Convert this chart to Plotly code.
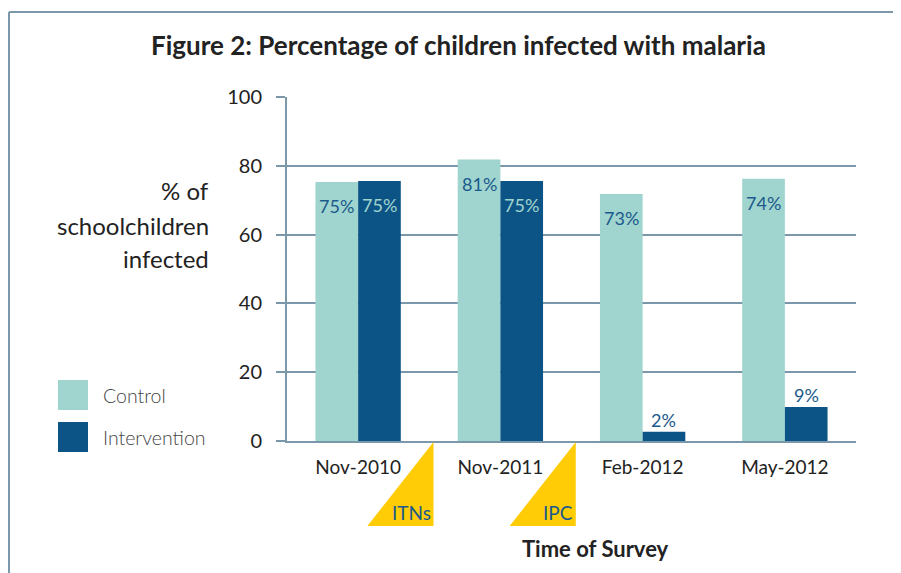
import plotly.graph_objects as go

categories = ["Nov-2010", "Nov-2011", "Feb-2012", "May-2012"]
control = [75.3, 81.8, 71.8, 76.2]
intervention = [75.6, 75.6, 2.7, 9.9]
control_labels = ["75%", "81%", "73%", "74%"]
intervention_labels = ["75%", "75%", "2%", "9%"]
y_ticks = [0, 20, 40, 60, 80, 100]
markers = [("ITNs", 0.5), ("IPC", 1.5)]

C_CTRL = "#a0d4ce"
C_INT = "#0d5486"
C_TXT = "#1b5a8c"
C_GRID = "#7b98ab"
C_YEL = "#ffcc05"
FONT = "Lato"

# page body margin of the browser (8px) is compensated
OFF = 8
W, H = 901 - OFF, 573 - OFF
# plot area in page pixels
L, R, T, B = 287, 856, 97, 441


def px(x):
    return (x - L) / (R - L)


def py(y):
    return (B - y) / (B - T)


fig = go.Figure()
fig.add_trace(go.Bar(x=categories, y=control, name="Control", marker_color=C_CTRL,
                     marker_line_width=0, hoverinfo="skip"))
fig.add_trace(go.Bar(x=categories, y=intervention, name="Intervention", marker_color=C_INT,
                     marker_line_width=0, hoverinfo="skip"))

ann = []
shapes = []
# bar labels
for cat, v, lab in zip(categories, control, control_labels):
    ann.append(dict(x=cat, y=v, xref="x", yref="y", text=lab, showarrow=False,
                    xanchor="center", yanchor="middle",
                    xshift=-21.3, yshift=-24, font=dict(family=FONT, size=18, color=C_TXT)))
for cat, v, lab in zip(categories, intervention, intervention_labels):
    inside = v > 20
    ann.append(dict(x=cat, y=v, xref="x", yref="y", text=lab, showarrow=False,
                    xanchor="center", yanchor="middle",
                    xshift=21.3, yshift=-24 if inside else 12,
                    font=dict(family=FONT, size=18, color=C_CTRL if inside else C_TXT)))

# title
ann.append(dict(x=px(458), y=py(45), xref="paper", yref="paper", showarrow=False,
                xanchor="center", yanchor="middle",
                text="<b>Figure 2: Percentage of children infected with malaria</b>",
                font=dict(family=FONT, size=26, color="#222")))
# y title
for txt, yy in [("% of", 190), ("schoolchildren", 225), ("infected", 258)]:
    ann.append(dict(x=px(211), y=py(yy), xref="paper", yref="paper", showarrow=False,
                    xanchor="right", yanchor="middle", text=txt,
                    font=dict(family=FONT, size=24, color="#222")))
# x title
ann.append(dict(x=px(595), y=py(548), xref="paper", yref="paper", showarrow=False,
                xanchor="center", yanchor="middle",
                text="<b>Time of Survey</b>", font=dict(family=FONT, size=22, color="#222")))
# legend
for name, col, yy in [("Control", C_CTRL, 395), ("Intervention", C_INT, 437)]:
    shapes.append(dict(type="rect", xref="paper", yref="paper", x0=px(58), x1=px(88),
                       y0=py(yy - 15), y1=py(yy + 15), fillcolor=col, line_width=0))
    ann.append(dict(x=px(101), y=py(yy), xref="paper", yref="paper", showarrow=False,
                    xanchor="left", yanchor="middle", text=name,
                    font=dict(family=FONT, size=19.5, color="#444", weight=300)))
# triangles marking interventions
for lab, pos in markers:
    shapes.append(dict(type="path", xref="x", yref="paper",
                       path=f"M {pos+0.03} {py(442)} L {pos+0.03} {py(526)} L {pos-0.435} {py(526)} Z",
                       fillcolor=C_YEL, line_width=0, layer="above"))
    ann.append(dict(x=pos + 0.03, y=py(512), xref="x", yref="paper", showarrow=False,
                    xanchor="right", yanchor="middle", xshift=-1, text=lab,
                    font=dict(family=FONT, size=19, color=C_TXT)))
# frame
shapes.append(dict(type="line", xref="paper", yref="paper", x0=px(9), x1=px(901),
                   y0=py(12), y1=py(12), line=dict(color=C_GRID, width=2)))
shapes.append(dict(type="line", xref="paper", yref="paper", x0=px(9), x1=px(9),
                   y0=py(12), y1=py(573), line=dict(color=C_GRID, width=2)))

fig.update_layout(
    width=W, height=H,
    margin=dict(l=L - OFF, r=901 - R, t=T - OFF, b=573 - B, pad=0),
    paper_bgcolor="white", plot_bgcolor="white",
    barmode="group", bargap=0.4, bargroupgap=0,
    showlegend=False,
    annotations=ann, shapes=shapes,
    font=dict(family=FONT, color="#222"),
)
fig.update_xaxes(showgrid=False, showline=True, linecolor=C_GRID, linewidth=2,
                 ticks="", tickfont=dict(family=FONT, size=19, color="#222"),
                 ticklabelstandoff=8)
fig.update_yaxes(range=[0, 100], tickvals=y_ticks, showgrid=True, gridcolor=C_GRID,
                 gridwidth=1.5, showline=True, linecolor=C_GRID, linewidth=2,
                 ticks="outside", ticklen=9, tickcolor=C_GRID, tickwidth=1.5,
                 zeroline=False, tickfont=dict(family=FONT, size=20, color="#222"),
                 ticklabelstandoff=10)

fig.write_html("out.html")
